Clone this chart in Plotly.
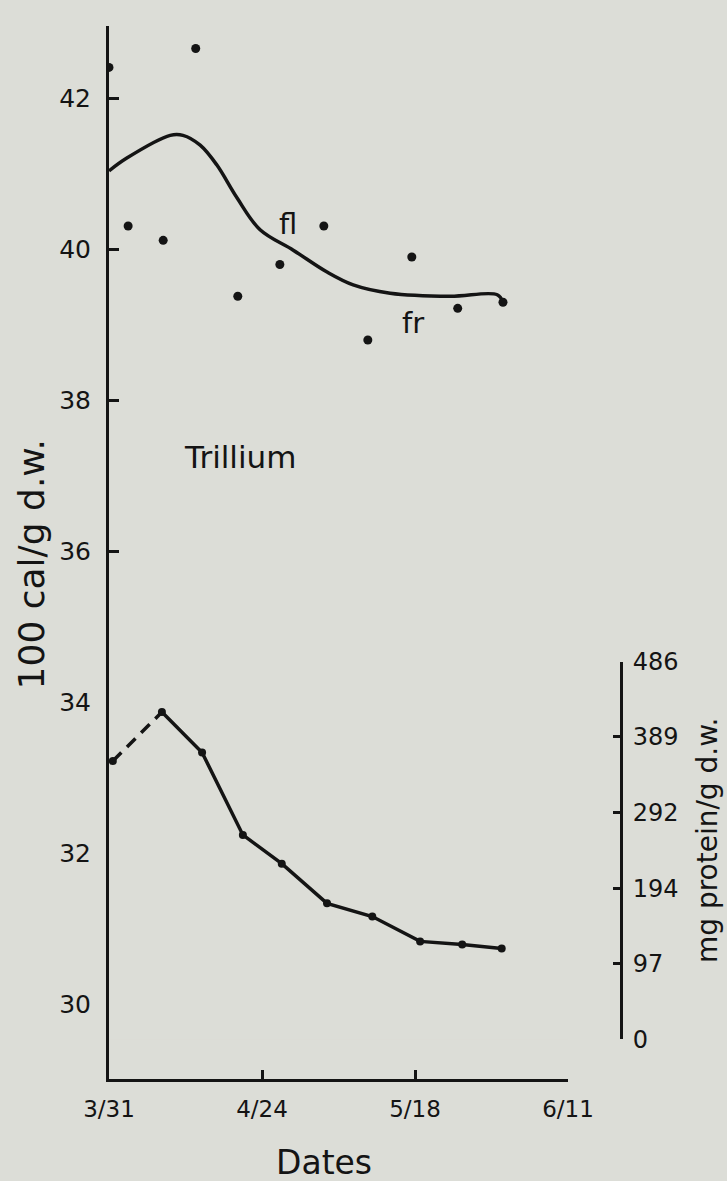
import plotly.graph_objects as go

# ---------------- data (x = days after 3/31) ----------------
tick_days = [0, 24, 48, 72]
tick_text = ["3/31", "4/24", "5/18", "6/11"]

# caloric content (100 cal/g d.w.) - individual samples
cal_days = [0, 3.0, 8.5, 13.6, 20.2, 26.8, 33.7, 40.6, 47.5, 54.7, 61.8]
cal_vals = [42.41, 40.31, 40.12, 42.66, 39.38, 39.80, 40.31, 38.80, 39.90, 39.22, 39.30]

# smoothed caloric trend curve
curve_days = [0, 2.8, 9.6, 11.6, 14.3, 16.9, 20.1, 23.7, 28.9, 34.2, 38.3, 44.1, 53.5, 60.9, 61.8]
curve_vals = [41.04, 41.21, 41.51, 41.51, 41.38, 41.12, 40.68, 40.26, 39.99, 39.70, 39.53, 39.42, 39.38, 39.40, 39.30]

# protein (mg protein/g d.w.)
prot_days = [0.6, 8.3, 14.6, 21.0, 27.1, 34.2, 41.3, 48.8, 55.4, 61.6]
prot_vals = [358, 421, 369, 263, 226, 175, 158, 126, 122, 117]

left_ticks = [30, 32, 34, 36, 38, 40, 42]
right_ticks = [0, 97, 194, 292, 389, 486]

# ---------------- styling ----------------
W, H = 727, 1181
ML, MR, MT, MB = 109, 87, 17, 102
PW, PH = W - ML - MR, H - MT - MB
INK = "#141414"
BG = "#dcddd7"
FONT = "DejaVu Sans"

def px_x(px):
    return (px - ML) / PW

def px_y(py):
    return (H - MB - py) / PH

fig = go.Figure()

fig.add_trace(go.Scatter(x=curve_days, y=curve_vals, mode="lines",
                         line=dict(color=INK, width=3.5, shape="spline", smoothing=1.0),
                         hoverinfo="skip", showlegend=False))
fig.add_trace(go.Scatter(x=cal_days, y=cal_vals, mode="markers",
                         marker=dict(color=INK, size=9),
                         showlegend=False))

# protein: dashed first segment, solid afterwards
fig.add_trace(go.Scatter(x=prot_days[:2], y=prot_vals[:2], mode="lines",
                         line=dict(color=INK, width=3.5, dash="12px,8px"),
                         yaxis="y2", showlegend=False))
fig.add_trace(go.Scatter(x=prot_days[1:], y=prot_vals[1:], mode="lines",
                         line=dict(color=INK, width=3.5),
                         yaxis="y2", showlegend=False))
fig.add_trace(go.Scatter(x=prot_days, y=prot_vals, mode="markers",
                         marker=dict(color=INK, size=8),
                         yaxis="y2", showlegend=False))

x_end = px_x(568)
fig.update_layout(
    width=W, height=H,
    margin=dict(l=ML, r=MR, t=MT, b=MB, pad=0),
    paper_bgcolor=BG, plot_bgcolor=BG,
    font=dict(family=FONT, color=INK, size=24),
    showlegend=False,
    xaxis=dict(domain=[0, x_end], range=[0, 72], tickvals=tick_days, ticktext=tick_text,
               showgrid=False, zeroline=False, showline=True, linecolor=INK, linewidth=3,
               ticks="inside", ticklen=9, tickwidth=2.5, tickcolor=INK,
               tickfont=dict(size=23), ticklabelstandoff=7),
    yaxis=dict(domain=[0, 1], range=[29.016, 42.958], tickvals=left_ticks,
               showgrid=False, zeroline=False, showline=True, linecolor=INK, linewidth=3,
               ticks="inside", ticklen=10, tickwidth=2.5, tickcolor=INK,
               tickfont=dict(size=25), ticklabelstandoff=10),
    yaxis2=dict(domain=[px_y(1039), px_y(658)], range=[0, 486], tickvals=right_ticks,
                anchor="free", position=px_x(621), side="right",
                showgrid=False, zeroline=False, showline=True, linecolor=INK, linewidth=3,
                ticks="inside", ticklen=7, tickwidth=2.5, tickcolor=INK,
                tickfont=dict(size=24), ticklabelstandoff=5),
)

annos = [
    dict(text="fl", x=28.1, y=40.33, xref="x", yref="y", font=dict(size=29)),
    dict(text="fr", x=47.7, y=39.02, xref="x", yref="y", font=dict(size=29)),
    dict(text="Trillium", x=20.5, y=37.25, xref="x", yref="y", font=dict(size=31)),
    dict(text="100 cal/g d.w.", x=px_x(31), y=px_y(560), xref="paper", yref="paper",
         textangle=-90, font=dict(size=36)),
    dict(text="mg protein/g d.w.", x=px_x(707), y=px_y(838), xref="paper", yref="paper",
         textangle=-90, font=dict(size=28)),
    dict(text="Dates", x=px_x(324), y=px_y(1163), xref="paper", yref="paper",
         font=dict(size=33)),
]
for a in annos:
    a.update(showarrow=False, xanchor="center", yanchor="middle")
    fig.add_annotation(**a)

fig.write_html(
    "out.html",
    config={"displayModeBar": False},
    post_script="document.body.style.margin='0';document.body.style.background='%s';" % BG,
)
